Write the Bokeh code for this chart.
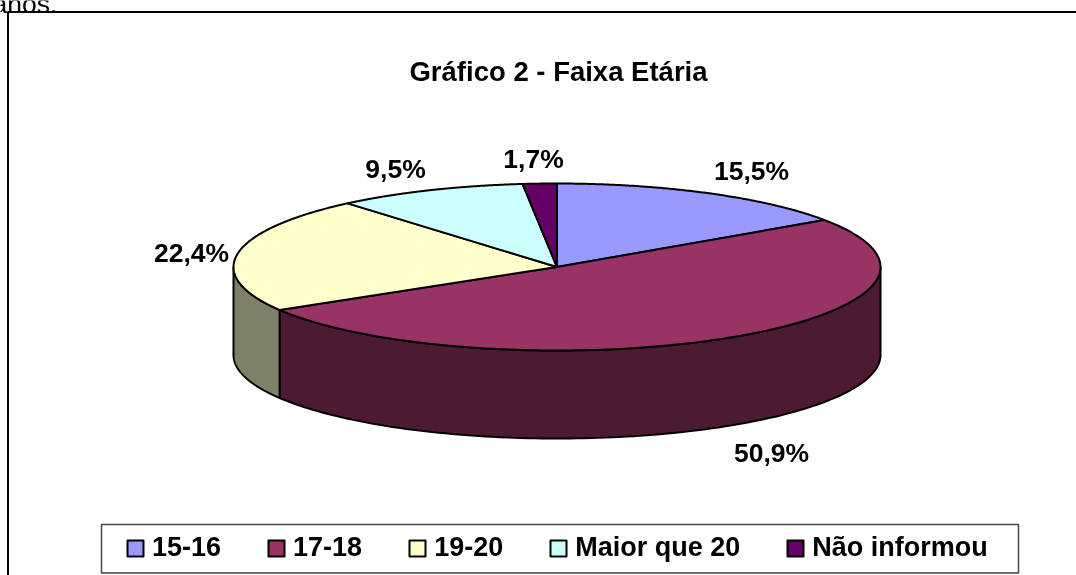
import numpy as np
from bokeh.plotting import figure
from bokeh.models import Range1d, Legend, LegendItem
from bokeh.core.properties import value
from bokeh.embed import file_html
from bokeh.resources import INLINE

categories = ["15-16", "17-18", "19-20", "Maior que 20", "Não informou"]
shares = [15.5, 50.9, 22.4, 9.5, 1.7]
labels = ["15,5%", "50,9%", "22,4%", "9,5%", "1,7%"]
top_colors = ["#9999FF", "#993366", "#FFFFCC", "#CCFFFF", "#660066"]
side_colors = ["#4D4D80", "#4C1A33", "#808066", "#668080", "#330033"]
title_text = "Gráfico 2 - Faixa Etária"
cut_text = "anos."

W, H = 1076, 575
p = figure(width=W, height=H, output_backend="svg", toolbar_location=None,
           x_range=Range1d(0, W), y_range=Range1d(H, 0), min_border=0,
           outline_line_color=None, background_fill_color="white",
           styles={"position": "fixed", "left": "0px", "top": "0px"})
p.axis.visible = False
p.grid.visible = False

cx, cy, rx, ry, depth = 556.5, 266.5, 323.5, 83.5, 88.0
total = sum(shares)
edges = np.concatenate([[0], np.cumsum(shares)]) / total * 2 * np.pi


def pt(a, dy=0.0):
    return cx + rx * np.sin(a), cy - ry * np.cos(a) + dy


# pie walls: only the front half of the rim can be seen
for i in range(len(shares)):
    a0, a1 = max(edges[i], np.pi / 2), min(edges[i + 1], 3 * np.pi / 2)
    if a1 <= a0:
        continue
    t = np.linspace(a0, a1, 120)
    x0, y0 = pt(t)
    x1, y1 = pt(t[::-1], depth)
    p.patch(np.r_[x0, x1], np.r_[y0, y1], fill_color=side_colors[i],
            line_color="black", line_width=2)

# pie top
tops = []
for i in range(len(shares)):
    t = np.linspace(edges[i], edges[i + 1], 160)
    x0, y0 = pt(t)
    r = p.patch(np.r_[cx, x0], np.r_[cy, y0], fill_color=top_colors[i],
                line_color="black", line_width=2, line_join="round")
    tops.append(r)

# data labels, placed in page pixels around the pie
lab_x = [751, 771, 191, 395, 533]
lab_y = [170, 452, 252, 168, 158]
p.text(lab_x, lab_y, text=labels, text_align="center", text_baseline="middle",
       text_font=value("Liberation Sans"), text_font_style="bold",
       text_font_size="26.5px", text_color="black")

p.text([558], [71], text=[title_text], text_align="center", text_baseline="middle",
       text_font=value("Liberation Sans"), text_font_style="bold",
       text_font_size="27.5px", text_color="black")

p.text([-8], [3], text=[cut_text], text_align="left", text_baseline="alphabetic",
       text_font=value("Liberation Sans"), text_font_size="26.5px", text_color="black")

# outer chart frame: left and top edges only, running off the page
p.line([7.5, 7.5, W], [H, 11.5, 11.5], line_color="black", line_width=2)

# legend box
p.quad(left=[101], right=[1018], top=[524], bottom=[572.5], fill_color="white",
       line_color="#444444", line_width=1.5)

legend = Legend(items=[LegendItem(label=c, renderers=[r]) for c, r in zip(categories, tops)],
                orientation="horizontal", location=(125, H - 563),
                glyph_width=20, glyph_height=20, label_standoff=7, spacing=45,
                padding=10, margin=0,
                label_text_font="Liberation Sans", label_text_font_style="bold",
                label_text_font_size="27px", label_text_color="black",
                border_line_color=None, background_fill_alpha=0)
p.add_layout(legend, "center")

open("out.html", "w").write(file_html(p, INLINE))
